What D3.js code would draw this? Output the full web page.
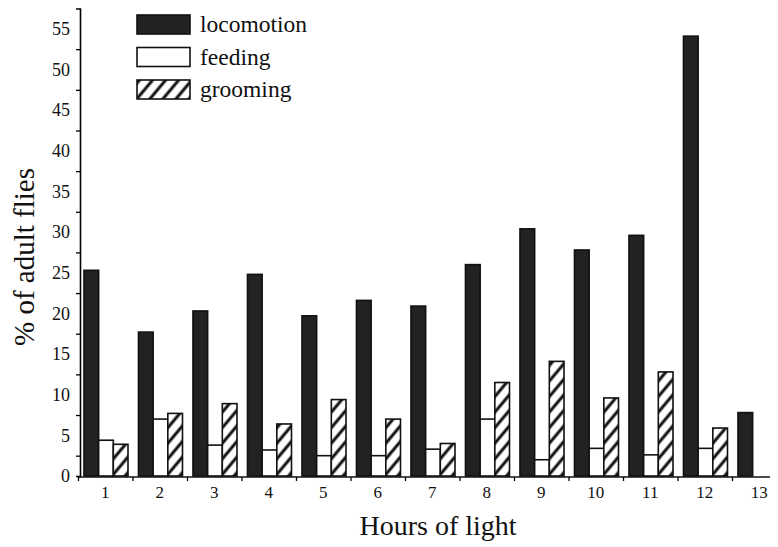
<!DOCTYPE html>
<html>
<head>
<meta charset="utf-8">
<script src="https://cdn.jsdelivr.net/npm/d3@7"></script>
<style>
  body { margin: 0; background: #fff; }
  svg { display: block; font-family: "Liberation Serif", "Times New Roman", serif; }
</style>
</head>
<body>
<div id="chart"></div>
<script>
// values (% of adult flies)
const hours = ["1", "2", "3", "4", "5", "6", "7", "8", "9", "10", "11", "12", "13"];
const keys = ["locomotion", "feeding", "grooming"];
const locomotion = [25.3, 17.7, 20.3, 24.8, 19.7, 21.6, 20.9, 26.0, 30.4, 27.8, 29.6, 54.1, 7.8];
const feeding    = [4.4, 7.0, 3.8, 3.2, 2.5, 2.5, 3.3, 7.0, 2.0, 3.4, 2.6, 3.4, 0];
const grooming   = [3.9, 7.7, 8.9, 6.4, 9.4, 7.0, 4.0, 11.5, 14.1, 9.6, 12.8, 5.9, 0];
const yLabels = [0, 5, 10, 15, 20, 25, 30, 35, 40, 45, 50, 55];
const yTicks = [2.5, 7.5, 12.5, 17.5, 22.5, 27.5, 32.5, 37.5, 42.5, 47.5, 52.5];

const width = 778, height = 547;
const x0Left = 78, step = 54.5, baseY = 476;

const svg = d3.select("#chart").append("svg")
  .attr("width", width).attr("height", height);

const defs = svg.append("defs");
const pat = defs.append("pattern")
  .attr("id", "hatch")
  .attr("patternUnits", "userSpaceOnUse")
  .attr("width", 10).attr("height", 10)
  .attr("patternTransform", "rotate(40)");
pat.append("rect").attr("width", 10).attr("height", 10).attr("fill", "#fff");
pat.append("line")
  .attr("x1", 2).attr("y1", 0).attr("x2", 2).attr("y2", 10)
  .attr("stroke", "#111").attr("stroke-width", 3);

const fills = { locomotion: "#222", feeding: "#fff", grooming: "url(#hatch)" };

const x0 = d3.scaleBand().domain(hours).range([x0Left, x0Left + step * hours.length]).padding(0);
const x1 = d3.scaleBand().domain(keys).range([0, x0.bandwidth()]).paddingInner(0).paddingOuter(0.357).align(0.57);
const xb = d3.scaleLinear().domain([0, hours.length]).range([x0Left, x0Left + step * hours.length]);
const y = d3.scaleLinear().domain([0, 57.5]).range([baseY, baseY - 57.5 * 8.13]);

const rows = hours.map((h, i) => ({ hour: h, locomotion: locomotion[i], feeding: feeding[i], grooming: grooming[i] }));

// bars
svg.append("g")
  .selectAll("g")
  .data(rows)
  .join("g")
  .attr("transform", d => `translate(${x0(d.hour)},0)`)
  .selectAll("rect")
  .data(d => keys.map(k => ({ key: k, value: d[k] })).filter(e => e.value > 0))
  .join("rect")
  .attr("x", d => x1(d.key))
  .attr("y", d => y(d.value))
  .attr("width", x1.bandwidth())
  .attr("height", d => y(0) - y(d.value))
  .attr("fill", d => fills[d.key])
  .attr("stroke", "#111")
  .attr("stroke-width", 1.6);

// y axis: ticks sit between the labels, as in the original
const yAxisG = svg.append("g").attr("transform", "translate(80,0)")
  .call(d3.axisLeft(y).tickValues(yTicks).tickSize(4).tickFormat(""));
yAxisG.select(".domain").attr("stroke-width", 1.6);
yAxisG.selectAll(".tick line").attr("stroke-width", 1.3);

svg.append("g").attr("transform", "translate(80,0)")
  .call(d3.axisLeft(y).tickValues(yLabels).tickSize(0).tickPadding(10))
  .attr("font-family", null).attr("font-size", 18)
  .call(g => g.select(".domain").remove())
  .selectAll("text")
  .attr("fill", "#111");

// x axis
svg.append("line")
  .attr("x1", x0Left).attr("x2", 770)
  .attr("y1", baseY + 1).attr("y2", baseY + 1)
  .attr("stroke", "#111").attr("stroke-width", 1.6);

svg.append("g").attr("transform", `translate(0,${baseY + 1})`)
  .call(d3.axisBottom(xb).tickValues(d3.range(0, hours.length)).tickSize(4).tickFormat(""))
  .call(g => g.select(".domain").remove())
  .selectAll(".tick line").attr("stroke-width", 1.3);

svg.append("g").attr("transform", `translate(0,${baseY + 1})`)
  .call(d3.axisBottom(x0).tickSize(0).tickPadding(9))
  .attr("font-family", null).attr("font-size", 17)
  .call(g => g.select(".domain").remove())
  .selectAll("text")
  .attr("fill", "#111");

// axis titles
svg.append("text")
  .attr("x", 438).attr("y", 535)
  .attr("text-anchor", "middle")
  .attr("font-size", 28)
  .attr("fill", "#111")
  .text("Hours of light");

svg.append("text")
  .attr("transform", "translate(34,257) rotate(-90)")
  .attr("text-anchor", "middle")
  .attr("font-size", 29)
  .attr("fill", "#111")
  .text("% of adult flies");

// legend
const legend = svg.append("g").attr("transform", "translate(137,15)");
keys.forEach((k, i) => {
  const item = legend.append("g").attr("transform", `translate(0,${i * 32.5})`);
  item.append("rect")
    .attr("width", 53).attr("height", 19)
    .attr("fill", fills[k])
    .attr("stroke", "#111").attr("stroke-width", 1.6);
  item.append("text")
    .attr("x", 63).attr("y", 17)
    .attr("font-size", 23.5)
    .attr("fill", "#111")
    .text(k);
});
</script>
</body>
</html>
